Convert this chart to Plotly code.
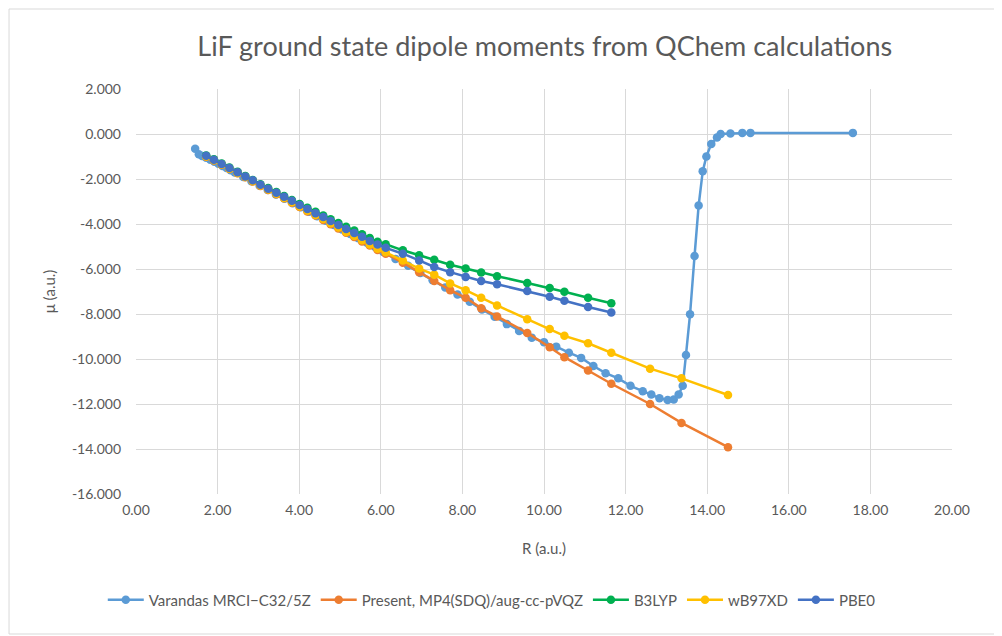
import plotly.graph_objects as go

# ---------------- data ----------------
R_varandas = [1.45, 1.54, 1.62, 1.72, 1.82, 1.92, 2.02, 2.12, 2.22, 2.32, 2.42, 2.63, 2.83, 3.03,
              3.23, 3.43, 3.64, 3.84, 4.04, 4.24, 4.44, 4.65, 4.85, 5.05, 5.25, 5.45, 5.66, 5.86,
              6.06, 6.36, 6.67, 6.97, 7.27, 7.58, 7.88, 8.18, 8.48, 8.79, 9.09, 9.39, 9.70, 10.00,
              10.30, 10.61, 10.91, 11.21, 11.51, 11.82, 12.12, 12.42, 12.63, 12.83, 13.03, 13.18,
              13.30, 13.40, 13.48, 13.58, 13.69, 13.79, 13.89, 13.98, 14.10, 14.24, 14.33, 14.57,
              14.86, 15.06, 17.57]
mu_varandas = [-0.66, -0.90, -0.98, -1.06, -1.14, -1.23, -1.32, -1.42, -1.51, -1.61, -1.71, -1.91,
               -2.10, -2.30, -2.49, -2.69, -2.88, -3.08, -3.26, -3.46, -3.65, -3.85, -4.04, -4.24,
               -4.44, -4.63, -4.83, -5.02, -5.24, -5.55, -5.86, -6.18, -6.50, -6.82, -7.13, -7.46,
               -7.80, -8.12, -8.45, -8.75, -9.05, -9.25, -9.45, -9.72, -9.95, -10.31, -10.63,
               -10.86, -11.19, -11.43, -11.58, -11.74, -11.82, -11.80, -11.58, -11.19, -9.82,
               -8.01, -5.42, -3.18, -1.66, -1.00, -0.44, -0.15, 0.00, 0.02, 0.05, 0.05, 0.05]

R_dft = [1.72, 1.91, 2.10, 2.29, 2.49, 2.68, 2.86, 3.05, 3.24, 3.44, 3.63, 3.82, 4.01, 4.20, 4.40,
         4.59, 4.77, 4.96, 5.15, 5.35, 5.54, 5.73, 5.92, 6.12, 6.54, 6.94, 7.31, 7.70, 8.08, 8.46,
         8.85, 9.59, 10.14, 10.50, 11.08, 11.65]
R_long = [1.72, 1.91, 2.10, 2.29, 2.49, 2.68, 2.86, 3.05, 3.24, 3.44, 3.63, 3.82, 4.01, 4.20, 4.40,
          4.59, 4.77, 4.96, 5.15, 5.35, 5.54, 5.73, 5.92, 6.12, 6.54, 6.94, 7.31, 7.70, 8.08, 8.46,
          8.85, 9.59, 10.14, 10.50, 11.08, 11.65, 12.60, 13.37, 14.51]

mu_mp4 = [-1.01, -1.18, -1.37, -1.55, -1.74, -1.92, -2.11, -2.31, -2.49, -2.68, -2.86, -3.06, -3.24,
          -3.44, -3.62, -3.82, -4.01, -4.20, -4.39, -4.58, -4.78, -4.96, -5.16, -5.32, -5.72, -6.14,
          -6.53, -6.94, -7.28, -7.74, -8.11, -8.84, -9.48, -9.92, -10.51, -11.10, -12.00, -12.84,
          -13.92]
mu_b3lyp = [-0.95, -1.12, -1.31, -1.49, -1.68, -1.87, -2.04, -2.23, -2.40, -2.58, -2.76, -2.93,
            -3.11, -3.28, -3.46, -3.62, -3.79, -3.96, -4.12, -4.29, -4.46, -4.62, -4.79, -4.90,
            -5.17, -5.39, -5.59, -5.81, -5.98, -6.16, -6.32, -6.62, -6.84, -7.01, -7.28, -7.52]
mu_wb97xd = [-1.00, -1.17, -1.36, -1.54, -1.73, -1.91, -2.10, -2.29, -2.47, -2.66, -2.84, -3.03,
             -3.22, -3.41, -3.60, -3.78, -3.97, -4.15, -4.35, -4.53, -4.72, -4.91, -5.10, -5.26,
             -5.62, -5.98, -6.25, -6.64, -6.94, -7.28, -7.62, -8.23, -8.67, -8.97, -9.30, -9.72,
             -10.43, -10.86, -11.60]
mu_pbe0 = [-0.97, -1.14, -1.33, -1.51, -1.70, -1.89, -2.06, -2.25, -2.43, -2.61, -2.79, -2.97,
           -3.16, -3.33, -3.52, -3.69, -3.87, -4.04, -4.22, -4.40, -4.57, -4.75, -4.91, -5.06,
           -5.32, -5.62, -5.91, -6.14, -6.35, -6.53, -6.68, -6.98, -7.23, -7.41, -7.69, -7.93]

series_names = ["Varandas MRCI\u2212C32/5Z", "Present, MP4(SDQ)/aug-cc-pVQZ", "B3LYP", "wB97XD", "PBE0"]
series_colors = ["#5B9BD5", "#ED7D31", "#00B050", "#FFC000", "#4472C4"]

y_tickvals = [2, 0, -2, -4, -6, -8, -10, -12, -14, -16]
y_ticktext = ["2.000", "0.000", "-2.000", "-4.000", "-6.000", "-8.000", "-10.000", "-12.000",
              "-14.000", "-16.000"]
x_tickvals = [0, 2, 4, 6, 8, 10, 12, 14, 16, 18, 20]
x_ticktext = ["0.00", "2.00", "4.00", "6.00", "8.00", "10.00", "12.00", "14.00", "16.00",
              "18.00", "20.00"]

title_text = "LiF ground state dipole moments from QChem calculations"

# ---------------- figure ----------------
FONT = "Lato, 'Open Sans', sans-serif"
TXT = "#595959"
GRID = "#D9D9D9"

fig = go.Figure()
xs = [R_varandas, R_long, R_dft, R_long, R_dft]
ys = [mu_varandas, mu_mp4, mu_b3lyp, mu_wb97xd, mu_pbe0]
for name, color, x, y in zip(series_names, series_colors, xs, ys):
    fig.add_trace(go.Scatter(
        x=x, y=y, name=name, mode="lines+markers",
        line=dict(color=color, width=2.5),
        marker=dict(color=color, size=8.5, symbol="circle"),
    ))

fig.update_layout(
    width=994, height=628,
    paper_bgcolor="white", plot_bgcolor="white",
    margin=dict(l=128, r=50, t=81, b=142, autoexpand=False),
    font=dict(family=FONT, color=TXT, size=14),
    title=dict(text=title_text, x=0.540, xanchor="center", y=0.938, yanchor="middle",
               font=dict(family=FONT, size=27, color=TXT)),
    showlegend=True,
    legend=dict(orientation="h", x=0.436, xanchor="center",
                y=-0.262, yanchor="middle",
                font=dict(family=FONT, size=15, color=TXT), itemwidth=36,
                bgcolor="rgba(0,0,0,0)", traceorder="normal"),
    xaxis=dict(range=[0, 20], tickvals=x_tickvals, ticktext=x_ticktext,
               showgrid=True, gridcolor=GRID, gridwidth=1, zeroline=False,
               showline=False, ticks="", ticklabelstandoff=6, tickfont=dict(size=14, color=TXT),
               tickangle=0,
               title=dict(text="R (a.u.)", font=dict(size=15, color=TXT), standoff=26)),
    yaxis=dict(range=[-16, 2], tickvals=y_tickvals, ticktext=y_ticktext,
               showgrid=True, gridcolor=GRID, gridwidth=1, zeroline=False,
               showline=False, ticks="", ticklabelstandoff=14, tickfont=dict(size=14, color=TXT),
               title=dict(text="\u03bc (a.u.)", font=dict(size=15, color=TXT), standoff=12)),
)

# chart-area border (Excel style)
fig.add_shape(type="rect", xref="paper", yref="paper",
              x0=-0.1556, x1=1.0588, y0=-0.3457, y1=1.1975,
              line=dict(color=GRID, width=1), fillcolor="rgba(0,0,0,0)", layer="below")

fig.write_html("out.html")
